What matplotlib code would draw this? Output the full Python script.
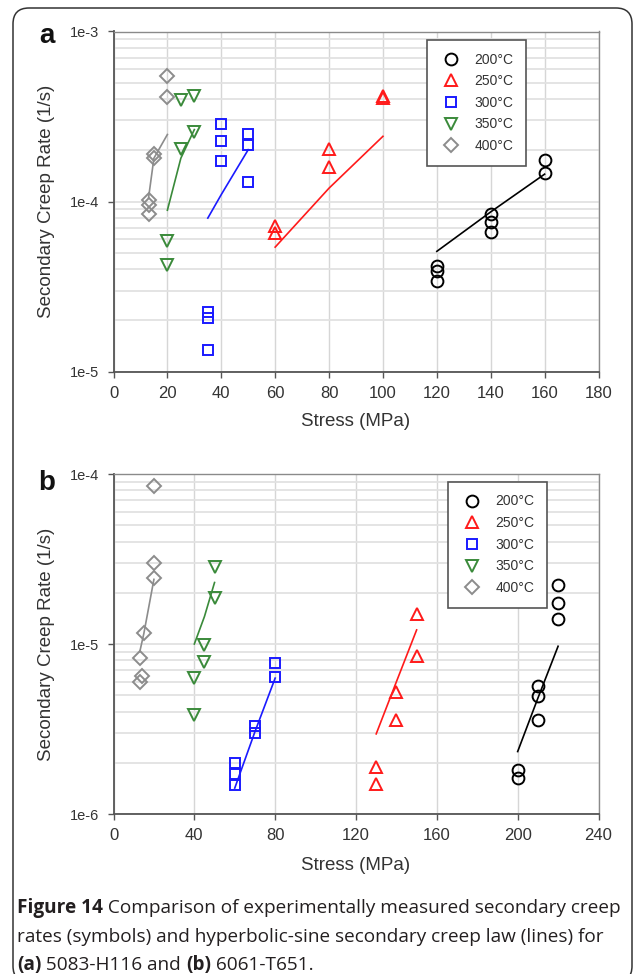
import numpy as np
import matplotlib
matplotlib.use("Agg")
import matplotlib.pyplot as plt
from matplotlib.lines import Line2D
from matplotlib.patches import FancyBboxPatch
from matplotlib.ticker import FixedLocator, FuncFormatter, LogLocator, NullFormatter

W, H = 634, 974

# -- panel (a): 5083-H116 -----------------------------------------------------
a_200_x = [120, 120, 120, 140, 140, 140, 160, 160]
a_200_y = [4.2e-5, 3.9e-5, 3.4e-5, 8.5e-5, 7.6e-5, 6.6e-5, 1.75e-4, 1.48e-4]
a_250_x = [60, 60, 80, 80, 100, 100]
a_250_y = [7.2e-5, 6.5e-5, 2.05e-4, 1.6e-4, 4.2e-4, 4.05e-4]
a_300_x = [35, 35, 35, 40, 40, 40, 50, 50, 50]
a_300_y = [2.25e-5, 2.07e-5, 1.35e-5, 2.85e-4, 2.28e-4, 1.73e-4, 2.5e-4, 2.15e-4, 1.3e-4]
a_350_x = [20, 20, 25, 25, 30, 30]
a_350_y = [5.9e-5, 4.25e-5, 2.05e-4, 3.95e-4, 4.2e-4, 2.55e-4]
a_400_x = [13, 13, 13, 15, 15, 20, 20]
a_400_y = [1.02e-4, 9.6e-5, 8.4e-5, 1.9e-4, 1.8e-4, 5.5e-4, 4.1e-4]

# hyperbolic-sine law curves, panel (a)
a_fit_200_x = [120, 140, 160]
a_fit_200_y = [5.1e-5, 8.7e-5, 1.45e-4]
a_fit_250_x = [60, 80, 100]
a_fit_250_y = [5.4e-5, 1.2e-4, 2.42e-4]
a_fit_300_x = [35, 40, 50]
a_fit_300_y = [8.0e-5, 1.1e-4, 2.02e-4]
a_fit_350_x = [20, 25, 30]
a_fit_350_y = [8.9e-5, 1.8e-4, 2.65e-4]
a_fit_400_x = [13, 15, 20]
a_fit_400_y = [1.05e-4, 1.8e-4, 2.48e-4]

# -- panel (b): 6061-T651 -----------------------------------------------------
b_200_x = [200, 200, 210, 210, 210, 220, 220, 220]
b_200_y = [1.82e-6, 1.62e-6, 5.66e-6, 4.95e-6, 3.57e-6, 2.22e-5, 1.75e-5, 1.4e-5]
b_250_x = [130, 130, 140, 140, 150, 150]
b_250_y = [1.9e-6, 1.51e-6, 5.25e-6, 3.57e-6, 1.5e-5, 8.5e-6]
b_300_x = [60, 60, 60, 70, 70, 80, 80]
b_300_y = [2.0e-6, 1.72e-6, 1.48e-6, 3.3e-6, 3.0e-6, 7.7e-6, 6.4e-6]
b_350_x = [40, 40, 45, 45, 50, 50]
b_350_y = [6.3e-6, 3.8e-6, 9.9e-6, 7.8e-6, 2.85e-5, 1.87e-5]
b_400_x = [13, 14, 15, 13, 20, 20, 20]
b_400_y = [8.3e-6, 6.5e-6, 1.16e-5, 6.0e-6, 8.5e-5, 3.0e-5, 2.45e-5]

b_fit_200_x = [200, 210, 220]
b_fit_200_y = [2.33e-6, 4.8e-6, 9.7e-6]
b_fit_250_x = [130, 140, 150]
b_fit_250_y = [2.96e-6, 6.0e-6, 1.21e-5]
b_fit_300_x = [60, 70, 80]
b_fit_300_y = [1.42e-6, 3.05e-6, 6.3e-6]
b_fit_350_x = [40, 45, 50]
b_fit_350_y = [1.0e-5, 1.45e-5, 2.3e-5]
b_fit_400_x = [13, 15, 20]
b_fit_400_y = [9.0e-6, 1.15e-5, 2.4e-5]

TEMPS = ["200°C", "250°C", "300°C", "350°C", "400°C"]
COLORS = ["#000000", "#ff1a1a", "#1a1aff", "#3a8a3a", "#8c8c8c"]
MARKERS = ["o", "^", "s", "v", "D"]
MSIZE = [8.5, 8.5, 7.5, 8.5, 7]

A_POINTS = [(a_200_x, a_200_y), (a_250_x, a_250_y), (a_300_x, a_300_y),
            (a_350_x, a_350_y), (a_400_x, a_400_y)]
A_FITS = [(a_fit_200_x, a_fit_200_y), (a_fit_250_x, a_fit_250_y),
          (a_fit_300_x, a_fit_300_y), (a_fit_350_x, a_fit_350_y),
          (a_fit_400_x, a_fit_400_y)]
B_POINTS = [(b_200_x, b_200_y), (b_250_x, b_250_y), (b_300_x, b_300_y),
            (b_350_x, b_350_y), (b_400_x, b_400_y)]
B_FITS = [(b_fit_200_x, b_fit_200_y), (b_fit_250_x, b_fit_250_y),
          (b_fit_300_x, b_fit_300_y), (b_fit_350_x, b_fit_350_y),
          (b_fit_400_x, b_fit_400_y)]

FONT = "Liberation Sans"
TXT = "#333333"


def fx(px):
    return px / W


def fy(py):
    return 1 - py / H


def draw_panel(ax, points, fits, xmax, xstep, ylim):
    for (x, y), c, m, ms in zip(points, COLORS, MARKERS, MSIZE):
        ax.plot(x, y, ls="none", marker=m, ms=ms, mfc="none", mec=c, mew=1.4,
                zorder=4)
    for (x, y), c in zip(fits, COLORS):
        ax.plot(x, y, color=c, lw=1.2, zorder=3)

    ax.set_yscale("log")
    ax.set_xlim(0, xmax)
    ax.set_ylim(*ylim)
    ax.xaxis.set_major_locator(FixedLocator(np.arange(0, xmax + 1, xstep)))
    ax.yaxis.set_major_locator(LogLocator(base=10, numticks=10))
    ax.yaxis.set_minor_locator(LogLocator(base=10, subs=np.arange(2, 10), numticks=10))
    ax.yaxis.set_minor_formatter(NullFormatter())
    ax.yaxis.set_major_formatter(
        FuncFormatter(lambda v, p: f"1e{int(round(np.log10(v)))}"))

    ax.grid(True, axis="x", which="major", color="#d6d6d6", lw=1.0, zorder=0)
    ax.grid(True, axis="y", which="both", color="#e2e2e2", lw=1.3, zorder=0)
    ax.set_axisbelow(True)

    ax.tick_params(axis="x", which="major", length=4, width=1.0, color="#555555",
                   pad=6, labelsize=12, labelcolor=TXT)
    ax.tick_params(axis="y", which="major", length=4.5, width=1.0, color="#555555",
                   pad=5.5, labelsize=10.5, labelcolor=TXT)
    ax.tick_params(axis="y", which="minor", length=0)
    for lab in ax.get_xticklabels() + ax.get_yticklabels():
        lab.set_fontfamily(FONT)

    for side in ("left", "bottom"):
        ax.spines[side].set_color("#555555")
        ax.spines[side].set_linewidth(1.3)
    for side in ("top", "right"):
        ax.spines[side].set_color("#8a8a8a")
        ax.spines[side].set_linewidth(1.0)


def add_legend(ax, left, top):
    handles = [Line2D([], [], ls="none", marker=m, ms=ms, mfc="none", mec=c, mew=1.4)
               for c, m, ms in zip(COLORS, MARKERS, MSIZE)]
    leg = ax.legend(handles, TEMPS, loc="upper left",
                    bbox_to_anchor=(fx(left), fy(top)),
                    bbox_transform=ax.figure.transFigure, borderaxespad=0,
                    frameon=True, fancybox=False, framealpha=1,
                    edgecolor="#555555", numpoints=1,
                    handlelength=1.6, handletextpad=0.9, borderpad=0.9,
                    labelspacing=0.55,
                    prop={"family": FONT, "size": 10})
    leg.get_frame().set_linewidth(1.2)
    for t in leg.get_texts():
        t.set_color(TXT)
    leg.set_zorder(6)


fig = plt.figure(figsize=(W / 100, H / 100), dpi=100)

ax_a = fig.add_axes([fx(113.5), fy(371.7), fx(598.5) - fx(113.5), (371.7 - 31.5) / H])
ax_b = fig.add_axes([fx(113.5), fy(814), fx(598.5) - fx(113.5), (814 - 474) / H])

draw_panel(ax_a, A_POINTS, A_FITS, 180, 20, (1e-5, 1e-3))
draw_panel(ax_b, B_POINTS, B_FITS, 240, 40, (1e-6, 1e-4))
add_legend(ax_a, 427, 40)
add_legend(ax_b, 448, 482)

# panel letters and axis titles
for letter, base in (("a", 43), ("b", 490)):
    fig.text(fx(47), fy(base), letter, ha="center", va="baseline",
             fontsize=20, fontweight="bold", family=FONT, color="#111111")
for ymid in (201.6, 644):
    fig.text(fx(46.5), fy(ymid), "Secondary Creep Rate (1/s)", rotation=90,
             ha="center", va="center", fontsize=13.5, family=FONT, color=TXT)
for ymid in (422, 866):
    fig.text(fx(356), fy(ymid), "Stress (MPa)", ha="center", va="center",
             fontsize=13.5, family=FONT, color=TXT)

# rounded border around the figure block
frame = FancyBboxPatch((13 / 100, (H - 982) / 100), 619 / 100, 974 / 100,
                       boxstyle="round,pad=0,rounding_size=0.16",
                       transform=fig.dpi_scale_trans, facecolor="none",
                       edgecolor="#333333", linewidth=1.1)
fig.patches.append(frame)

# caption, with bold runs placed one after another
CAPTION = [
    [("Figure 14", "bold"), (" Comparison of experimentally measured secondary creep", "normal")],
    [("rates (symbols) and hyperbolic-sine secondary creep law (lines) for", "normal")],
    [("(a)", "bold"), (" 5083-H116 and ", "normal"), ("(b)", "bold"), (" 6061-T651.", "normal")],
]
CAP_BASE = [913, 941.5, 970]
renderer = fig.canvas.get_renderer()
for runs, base in zip(CAPTION, CAP_BASE):
    x = 17.0
    for txt, weight in runs:
        t = fig.text(fx(x), fy(base), txt, ha="left", va="baseline",
                     fontsize=13.7, family="Open Sans", fontweight=weight,
                     color="#231f20")
        x += t.get_window_extent(renderer).width

fig.savefig("out.png", dpi=100)
